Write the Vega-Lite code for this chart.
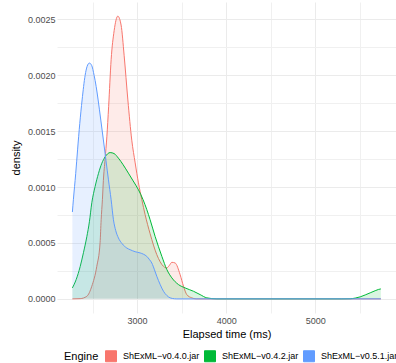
{
  "$schema": "https://vega.github.io/schema/vega-lite/v6.json",
  "width": 339,
  "height": 311,
  "autosize": {"type": "none"},
  "padding": {"left": 57, "top": 2, "right": 0, "bottom": 50},
  "background": "white",
  "config": {
    "font": "Liberation Sans",
    "view": {"stroke": null},
    "axis": {
      "domain": false,
      "ticks": false,
      "labelColor": "#4D4D4D",
      "labelFontSize": 9,
      "titleFontSize": 11,
      "titleFontWeight": "normal",
      "titleColor": "#000000"
    }
  },
  "datasets": {
    "curves": [
      {"engine": "ShExML−v0.4.0.jar", "time": 2273, "density": 0},
      {"engine": "ShExML−v0.4.0.jar", "time": 2360, "density": 0.000002},
      {"engine": "ShExML−v0.4.0.jar", "time": 2435, "density": 0.000023},
      {"engine": "ShExML−v0.4.0.jar", "time": 2491, "density": 0.000113},
      {"engine": "ShExML−v0.4.0.jar", "time": 2547, "density": 0.000291},
      {"engine": "ShExML−v0.4.0.jar", "time": 2584, "density": 0.000503},
      {"engine": "ShExML−v0.4.0.jar", "time": 2596, "density": 0.000708},
      {"engine": "ShExML−v0.4.0.jar", "time": 2610, "density": 0.000887},
      {"engine": "ShExML−v0.4.0.jar", "time": 2621, "density": 0.00106},
      {"engine": "ShExML−v0.4.0.jar", "time": 2640, "density": 0.00125},
      {"engine": "ShExML−v0.4.0.jar", "time": 2660, "density": 0.00145},
      {"engine": "ShExML−v0.4.0.jar", "time": 2680, "density": 0.00172},
      {"engine": "ShExML−v0.4.0.jar", "time": 2708, "density": 0.00214},
      {"engine": "ShExML−v0.4.0.jar", "time": 2742, "density": 0.0024},
      {"engine": "ShExML−v0.4.0.jar", "time": 2783, "density": 0.00253},
      {"engine": "ShExML−v0.4.0.jar", "time": 2820, "density": 0.00245},
      {"engine": "ShExML−v0.4.0.jar", "time": 2854, "density": 0.00218},
      {"engine": "ShExML−v0.4.0.jar", "time": 2896, "density": 0.00178},
      {"engine": "ShExML−v0.4.0.jar", "time": 2940, "density": 0.00142},
      {"engine": "ShExML−v0.4.0.jar", "time": 2978, "density": 0.001217},
      {"engine": "ShExML−v0.4.0.jar", "time": 3015, "density": 0.001038},
      {"engine": "ShExML−v0.4.0.jar", "time": 3053, "density": 0.000887},
      {"engine": "ShExML−v0.4.0.jar", "time": 3090, "density": 0.000753},
      {"engine": "ShExML−v0.4.0.jar", "time": 3146, "density": 0.000583},
      {"engine": "ShExML−v0.4.0.jar", "time": 3221, "density": 0.000396},
      {"engine": "ShExML−v0.4.0.jar", "time": 3296, "density": 0.000291},
      {"engine": "ShExML−v0.4.0.jar", "time": 3334, "density": 0.000277},
      {"engine": "ShExML−v0.4.0.jar", "time": 3360, "density": 0.000297},
      {"engine": "ShExML−v0.4.0.jar", "time": 3390, "density": 0.000327},
      {"engine": "ShExML−v0.4.0.jar", "time": 3427, "density": 0.000321},
      {"engine": "ShExML−v0.4.0.jar", "time": 3483, "density": 0.000217},
      {"engine": "ShExML−v0.4.0.jar", "time": 3521, "density": 0.000113},
      {"engine": "ShExML−v0.4.0.jar", "time": 3558, "density": 0.000038},
      {"engine": "ShExML−v0.4.0.jar", "time": 3614, "density": 0.000009},
      {"engine": "ShExML−v0.4.0.jar", "time": 3663, "density": 0},
      {"engine": "ShExML−v0.4.0.jar", "time": 5738, "density": 0},

      {"engine": "ShExML−v0.4.2.jar", "time": 2273, "density": 0.000098},
      {"engine": "ShExML−v0.4.2.jar", "time": 2315, "density": 0.000172},
      {"engine": "ShExML−v0.4.2.jar", "time": 2360, "density": 0.000288},
      {"engine": "ShExML−v0.4.2.jar", "time": 2397, "density": 0.000413},
      {"engine": "ShExML−v0.4.2.jar", "time": 2435, "density": 0.000556},
      {"engine": "ShExML−v0.4.2.jar", "time": 2464, "density": 0.00069},
      {"engine": "ShExML−v0.4.2.jar", "time": 2491, "density": 0.00086},
      {"engine": "ShExML−v0.4.2.jar", "time": 2528, "density": 0.001005},
      {"engine": "ShExML−v0.4.2.jar", "time": 2565, "density": 0.00112},
      {"engine": "ShExML−v0.4.2.jar", "time": 2604, "density": 0.001214},
      {"engine": "ShExML−v0.4.2.jar", "time": 2640, "density": 0.00127},
      {"engine": "ShExML−v0.4.2.jar", "time": 2697, "density": 0.001309},
      {"engine": "ShExML−v0.4.2.jar", "time": 2742, "density": 0.0013},
      {"engine": "ShExML−v0.4.2.jar", "time": 2790, "density": 0.001259},
      {"engine": "ShExML−v0.4.2.jar", "time": 2843, "density": 0.0012},
      {"engine": "ShExML−v0.4.2.jar", "time": 2902, "density": 0.001125},
      {"engine": "ShExML−v0.4.2.jar", "time": 2955, "density": 0.001056},
      {"engine": "ShExML−v0.4.2.jar", "time": 3015, "density": 0.000976},
      {"engine": "ShExML−v0.4.2.jar", "time": 3067, "density": 0.000887},
      {"engine": "ShExML−v0.4.2.jar", "time": 3109, "density": 0.000798},
      {"engine": "ShExML−v0.4.2.jar", "time": 3146, "density": 0.000708},
      {"engine": "ShExML−v0.4.2.jar", "time": 3202, "density": 0.000559},
      {"engine": "ShExML−v0.4.2.jar", "time": 3278, "density": 0.00038},
      {"engine": "ShExML−v0.4.2.jar", "time": 3334, "density": 0.000262},
      {"engine": "ShExML−v0.4.2.jar", "time": 3390, "density": 0.000188},
      {"engine": "ShExML−v0.4.2.jar", "time": 3464, "density": 0.000128},
      {"engine": "ShExML−v0.4.2.jar", "time": 3539, "density": 0.000098},
      {"engine": "ShExML−v0.4.2.jar", "time": 3633, "density": 0.000068},
      {"engine": "ShExML−v0.4.2.jar", "time": 3708, "density": 0.000038},
      {"engine": "ShExML−v0.4.2.jar", "time": 3783, "density": 0.000009},
      {"engine": "ShExML−v0.4.2.jar", "time": 3896, "density": 0},
      {"engine": "ShExML−v0.4.2.jar", "time": 5300, "density": 0},
      {"engine": "ShExML−v0.4.2.jar", "time": 5393, "density": 0.000001},
      {"engine": "ShExML−v0.4.2.jar", "time": 5450, "density": 0.000007},
      {"engine": "ShExML−v0.4.2.jar", "time": 5506, "density": 0.000018},
      {"engine": "ShExML−v0.4.2.jar", "time": 5562, "density": 0.000035},
      {"engine": "ShExML−v0.4.2.jar", "time": 5618, "density": 0.000054},
      {"engine": "ShExML−v0.4.2.jar", "time": 5674, "density": 0.000073},
      {"engine": "ShExML−v0.4.2.jar", "time": 5710, "density": 0.000084},
      {"engine": "ShExML−v0.4.2.jar", "time": 5738, "density": 0.000089},

      {"engine": "ShExML−v0.5.1.jar", "time": 2273, "density": 0.000777},
      {"engine": "ShExML−v0.5.1.jar", "time": 2284, "density": 0.000887},
      {"engine": "ShExML−v0.5.1.jar", "time": 2310, "density": 0.00112},
      {"engine": "ShExML−v0.5.1.jar", "time": 2331, "density": 0.001333},
      {"engine": "ShExML−v0.5.1.jar", "time": 2356, "density": 0.00157},
      {"engine": "ShExML−v0.5.1.jar", "time": 2382, "density": 0.00178},
      {"engine": "ShExML−v0.5.1.jar", "time": 2416, "density": 0.002},
      {"engine": "ShExML−v0.5.1.jar", "time": 2438, "density": 0.00208},
      {"engine": "ShExML−v0.5.1.jar", "time": 2464, "density": 0.00211},
      {"engine": "ShExML−v0.5.1.jar", "time": 2489, "density": 0.00209},
      {"engine": "ShExML−v0.5.1.jar", "time": 2517, "density": 0.002},
      {"engine": "ShExML−v0.5.1.jar", "time": 2540, "density": 0.0019},
      {"engine": "ShExML−v0.5.1.jar", "time": 2562, "density": 0.00178},
      {"engine": "ShExML−v0.5.1.jar", "time": 2592, "density": 0.0016},
      {"engine": "ShExML−v0.5.1.jar", "time": 2621, "density": 0.001422},
      {"engine": "ShExML−v0.5.1.jar", "time": 2650, "density": 0.00124},
      {"engine": "ShExML−v0.5.1.jar", "time": 2678, "density": 0.001065},
      {"engine": "ShExML−v0.5.1.jar", "time": 2708, "density": 0.000887},
      {"engine": "ShExML−v0.5.1.jar", "time": 2734, "density": 0.000708},
      {"engine": "ShExML−v0.5.1.jar", "time": 2760, "density": 0.00061},
      {"engine": "ShExML−v0.5.1.jar", "time": 2790, "density": 0.000545},
      {"engine": "ShExML−v0.5.1.jar", "time": 2830, "density": 0.000495},
      {"engine": "ShExML−v0.5.1.jar", "time": 2884, "density": 0.000455},
      {"engine": "ShExML−v0.5.1.jar", "time": 2921, "density": 0.00044},
      {"engine": "ShExML−v0.5.1.jar", "time": 2978, "density": 0.000422},
      {"engine": "ShExML−v0.5.1.jar", "time": 3034, "density": 0.000411},
      {"engine": "ShExML−v0.5.1.jar", "time": 3070, "density": 0.0004},
      {"engine": "ShExML−v0.5.1.jar", "time": 3109, "density": 0.00038},
      {"engine": "ShExML−v0.5.1.jar", "time": 3140, "density": 0.00035},
      {"engine": "ShExML−v0.5.1.jar", "time": 3165, "density": 0.000321},
      {"engine": "ShExML−v0.5.1.jar", "time": 3195, "density": 0.00026},
      {"engine": "ShExML−v0.5.1.jar", "time": 3221, "density": 0.000202},
      {"engine": "ShExML−v0.5.1.jar", "time": 3258, "density": 0.00013},
      {"engine": "ShExML−v0.5.1.jar", "time": 3296, "density": 0.000068},
      {"engine": "ShExML−v0.5.1.jar", "time": 3334, "density": 0.00003},
      {"engine": "ShExML−v0.5.1.jar", "time": 3371, "density": 0.000009},
      {"engine": "ShExML−v0.5.1.jar", "time": 3420, "density": 0.000001},
      {"engine": "ShExML−v0.5.1.jar", "time": 3446, "density": 0},
      {"engine": "ShExML−v0.5.1.jar", "time": 5738, "density": 0}
    ]
  },
  "data": {"name": "curves"},
  "encoding": {
    "x": {
      "field": "time", "type": "quantitative",
      "title": "Elapsed time (ms)",
      "scale": {"domain": [2100, 5908], "nice": false, "zero": false},
      "axis": {
        "values": [2500, 3000, 3500, 4000, 4500, 5000, 5500],
        "format": "d",
        "labelExpr": "datum.value % 1000 === 0 ? datum.label : ''",
        "labelPadding": 3,
        "titlePadding": 3,
        "gridColor": {"condition": {"test": "datum.value % 1000 === 0", "value": "#EBEBEB"}, "value": "#F0F0F0"}
      }
    },
    "y": {
      "field": "density", "type": "quantitative", "stack": null,
      "title": "density",
      "scale": {"domain": [-0.0001265, 0.0026565], "nice": false, "zero": false},
      "axis": {
        "values": [0, 0.00025, 0.0005, 0.00075, 0.001, 0.00125, 0.0015, 0.00175, 0.002, 0.00225, 0.0025],
        "labelExpr": "round(datum.value * 10000) % 5 === 0 ? format(datum.value, '.4f') : ''",
        "labelPadding": 2,
        "titlePadding": 6,
        "gridColor": {"condition": {"test": "round(datum.value * 10000) % 5 === 0", "value": "#EBEBEB"}, "value": "#F0F0F0"}
      }
    },
    "color": {
      "field": "engine", "type": "nominal", "title": "Engine",
      "scale": {"domain": ["ShExML−v0.4.0.jar", "ShExML−v0.4.2.jar", "ShExML−v0.5.1.jar"], "range": ["#F8766D", "#00BA38", "#619CFF"]},
      "legend": {
        "orient": "none", "legendX": 7, "legendY": 348,
        "direction": "horizontal", "titleOrient": "left",
        "titleFontSize": 11, "titleFontWeight": "normal", "titleColor": "#000000",
        "labelFontSize": 9, "labelColor": "#000000", "labelOffset": 6,
        "symbolType": "square", "symbolSize": 121, "symbolStrokeWidth": 1,
        "columnPadding": 2, "titlePadding": 6
      }
    }
  },
  "layer": [
    {"transform": [{"filter": "datum.engine === 'ShExML−v0.4.0.jar'"}], "mark": {"type": "area", "fillOpacity": 0.15, "interpolate": "monotone"}, "encoding": {"y2": {"datum": 0}}},
    {"transform": [{"filter": "datum.engine === 'ShExML−v0.4.0.jar'"}], "mark": {"type": "line", "strokeWidth": 1, "interpolate": "monotone"}},
    {"transform": [{"filter": "datum.engine === 'ShExML−v0.4.2.jar'"}], "mark": {"type": "area", "fillOpacity": 0.15, "interpolate": "monotone"}, "encoding": {"y2": {"datum": 0}}},
    {"transform": [{"filter": "datum.engine === 'ShExML−v0.4.2.jar'"}], "mark": {"type": "line", "strokeWidth": 1, "interpolate": "monotone"}},
    {"transform": [{"filter": "datum.engine === 'ShExML−v0.5.1.jar'"}], "mark": {"type": "area", "fillOpacity": 0.15, "interpolate": "monotone"}, "encoding": {"y2": {"datum": 0}}},
    {"transform": [{"filter": "datum.engine === 'ShExML−v0.5.1.jar'"}], "mark": {"type": "line", "strokeWidth": 1, "interpolate": "monotone"}}
  ]
}
